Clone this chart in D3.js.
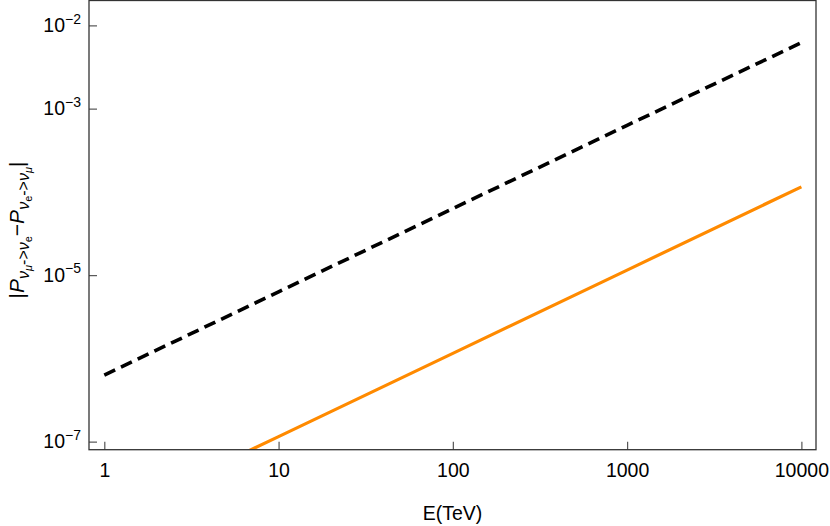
<!DOCTYPE html>
<html>
<head>
<meta charset="utf-8">
<script src="https://cdn.jsdelivr.net/npm/d3@7"></script>
<style>
  body { margin: 0; background: #fff; }
  svg { font-family: "Liberation Sans", Arial, Helvetica, sans-serif; }
</style>
</head>
<body>
<div id="chart"></div>
<script>
// Data
const energies = [1, 10, 100, 1000, 10000];
const dashedValues = [6.3e-7, 6.3e-6, 6.3e-5, 6.3e-4, 6.2e-3];
const solidValues = [1.15e-8, 1.15e-7, 1.15e-6, 1.15e-5, 1.15e-4];
const xTicks = [1, 10, 100, 1000, 10000];
const yTicks = [1e-2, 1e-3, 1e-5, 1e-7];
const yTickExponents = ["\u22122", "\u22123", "\u22125", "\u22127"];

// Set up margins and dimensions
const W = 830, H = 526;
const margin = { top: 0.5, right: 14, bottom: 76.3, left: 89 };
const width = W - margin.left - margin.right;
const height = H - margin.top - margin.bottom;

const svg = d3.select("#chart")
  .append("svg")
  .attr("width", W)
  .attr("height", H)
  .append("g")
  .attr("transform", "translate(" + margin.left + "," + margin.top + ")");

// Scales
const x = d3.scaleLog()
  .domain([0.817, 12130])
  .range([0, width]);

const y = d3.scaleLog()
  .domain([8.0e-8, 1.99e-2])
  .range([height, 0]);

// Clip for the lines
svg.append("clipPath")
  .attr("id", "clip")
  .append("rect")
  .attr("width", width)
  .attr("height", height);

const line = d3.line()
  .x(d => x(d[0]))
  .y(d => y(d[1]));

svg.append("path")
  .datum(energies.map((e, i) => [e, solidValues[i]]))
  .attr("clip-path", "url(#clip)")
  .attr("fill", "none")
  .attr("stroke", "#ff8a00")
  .attr("stroke-width", 3.2)
  .attr("d", line);

svg.append("path")
  .datum(energies.map((e, i) => [e, dashedValues[i]]))
  .attr("clip-path", "url(#clip)")
  .attr("fill", "none")
  .attr("stroke", "#000")
  .attr("stroke-width", 3.6)
  .attr("stroke-dasharray", "12,6.5")
  .attr("d", line);

// Axes
const xAxis = svg.append("g")
  .attr("transform", "translate(0," + height + ")")
  .call(d3.axisBottom(x)
    .tickValues(xTicks)
    .tickFormat(d3.format("d"))
    .tickSize(-8)
    .tickPadding(13.5));

const yAxis = svg.append("g")
  .call(d3.axisLeft(y)
    .tickValues(yTicks)
    .tickFormat("")
    .tickSize(-8)
    .tickPadding(8));

[xAxis, yAxis].forEach(a => {
  a.select(".domain").remove();
  a.selectAll(".tick line").attr("stroke", "#555").attr("stroke-width", 1.2);
  a.selectAll(".tick text")
    .attr("fill", "#000")
    .attr("font-size", 19.5)
    .attr("font-family", null);
});

// Power-of-ten labels on y
yAxis.selectAll(".tick text").each(function (d, i) {
  const t = d3.select(this);
  t.append("tspan").text("10");
  t.append("tspan")
    .attr("font-size", 14)
    .attr("dy", "-0.6em")
    .text(yTickExponents[i]);
});

// Frame
svg.append("rect")
  .attr("width", width)
  .attr("height", height)
  .attr("fill", "none")
  .attr("stroke", "#333")
  .attr("stroke-width", 1.3);

// x-axis label
svg.append("text")
  .attr("x", width / 2)
  .attr("y", height + 70)
  .attr("text-anchor", "middle")
  .attr("font-size", 19.5)
  .text("E(TeV)");

// y-axis label |P_{nu_mu->nu_e} - P_{nu_e->nu_mu}|
const yl = svg.append("text")
  .attr("transform", "translate(" + (24 - margin.left) + "," + (230 - margin.top) + ") rotate(-90)")
  .attr("text-anchor", "middle")
  .attr("font-size", 21);

const parts = [
  { t: "|", s: 21, dy: 0 },
  { t: "P", s: 21, dy: 0, i: true },
  { t: "\u03bd", s: 16, dy: 5, i: true },
  { t: "\u03bc", s: 11, dy: 3, i: true },
  { t: "->", s: 16, dy: -3 },
  { t: "\u03bd", s: 16, dy: 0, i: true },
  { t: "e", s: 11, dy: 3 },
  { t: "\u2212", s: 21, dy: -8 },
  { t: "P", s: 21, dy: 0, i: true },
  { t: "\u03bd", s: 16, dy: 5, i: true },
  { t: "e", s: 11, dy: 3 },
  { t: "->", s: 16, dy: -3 },
  { t: "\u03bd", s: 16, dy: 0, i: true },
  { t: "\u03bc", s: 11, dy: 3, i: true },
  { t: "|", s: 21, dy: -8 }
];
parts.forEach(p => {
  yl.append("tspan")
    .attr("font-size", p.s)
    .attr("dy", p.dy)
    .attr("font-style", p.i ? "italic" : null)
    .text(p.t);
});
</script>
</body>
</html>
